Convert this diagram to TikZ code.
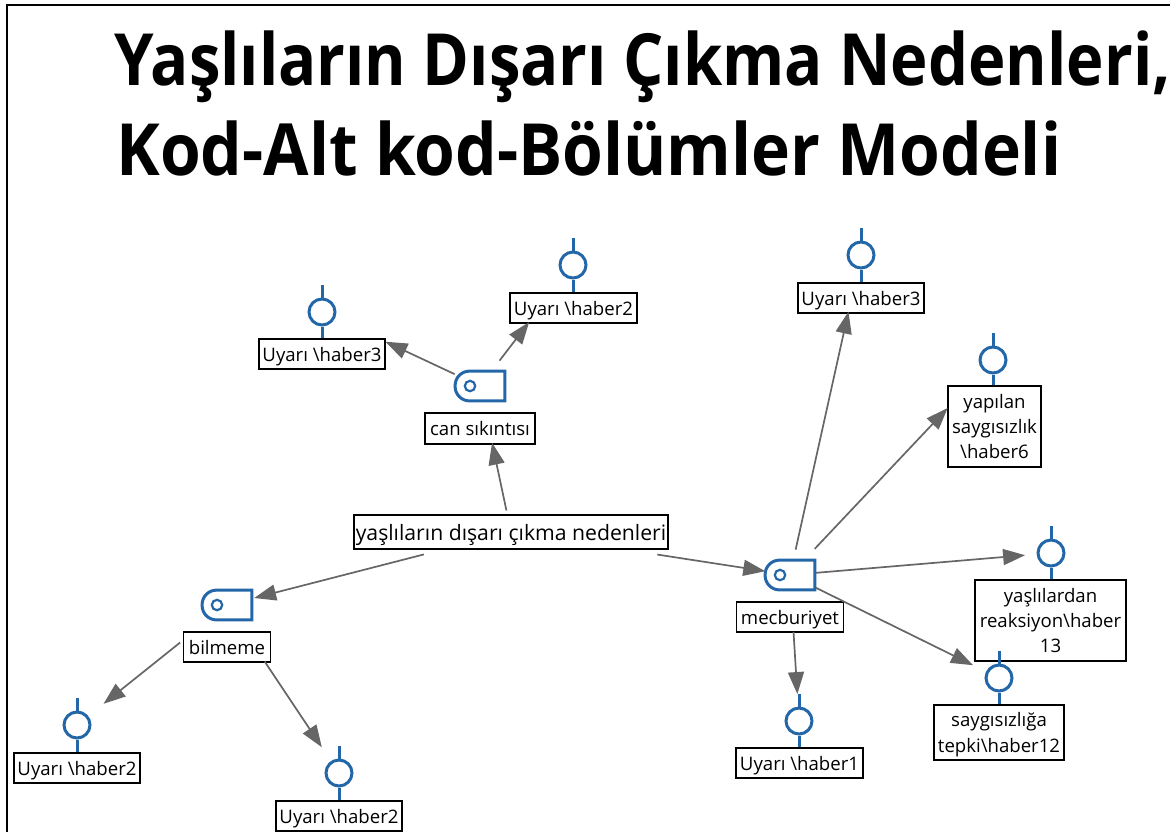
\documentclass[tikz,border=0pt]{standalone}
\usepackage{xcolor}
\usepackage{fontspec}
\setmainfont{Open Sans}
\newfontfamily\headfont[FakeStretch=0.915]{Open Sans}
\newfontfamily\headfontnarrow[FakeStretch=0.88]{Open Sans}
\usetikzlibrary{arrows.meta}
\definecolor{codeblue}{HTML}{2467A8}
\definecolor{linkgray}{HTML}{666666}
\tikzset{
	titletext/.style={anchor=base west, inner sep=0pt, font=\headfont\bfseries\fontsize{36}{40}\selectfont},
	labelbox/.style={draw=black, line width=0.75pt, inner sep=0pt, align=center, text depth=0pt, font=\fontsize{9.3}{12.6}\selectfont},
	tagicon/.style={inner sep=0pt, minimum width=24.5pt, minimum height=14.5pt},
	tagline/.style={draw=codeblue, line width=1.5pt},
	quotemark/.style={circle, tagline, inner sep=0pt, minimum size=13pt},
	link/.style={draw=linkgray, line width=0.85pt, -{Triangle[length=11pt,width=8pt]}}
}
\begin{document}
\begin{tikzpicture}[x=0.5pt,y=-0.5pt]
	\useasboundingbox (0,0) rectangle (1170,832);
	\draw[black, line width=1pt] (7,832) -- (7,5) -- (1170,5);

	\node[titletext, font=\headfontnarrow\bfseries\fontsize{36}{40}\selectfont] (title1) at (114,85) {Yaşlıların Dışarı Çıkma Nedenleri,};
	\node[titletext] (title2) at (116,175) {Kod-Alt kod-Bölümler Modeli};

	% center text
	\node[labelbox, minimum width=157pt, minimum height=17pt, font=\fontsize{10.6}{12.6}\selectfont] (root) at (511,532) {yaşlıların dışarı çıkma nedenleri};

	% code icons
	\node[tagicon] (canicon) at (480,386) {};
	\node[tagicon] (bilicon) at (227,605) {};
	\node[tagicon] (mecicon) at (790,575) {};
	\foreach \n in {canicon,bilicon,mecicon} {
		\draw[tagline, line join=miter] (\n.north east) -- (\n.south east) [rounded corners=7.2pt] -- (\n.south west) -- (\n.north west) [sharp corners] -- cycle;
		\draw[tagline, line width=1.1pt] (\n.center) ++(-10,0) circle (2.6pt);
	}
	\node[labelbox, minimum width=55pt, minimum height=15.5pt] (cantext) at (480,428.5) {can sıkıntısı};
	\node[labelbox, minimum width=43.5pt, minimum height=15pt] (biltext) at (227,647) {bilmeme};
	\node[labelbox, minimum width=53.5pt, minimum height=15pt] (mectext) at (790,617) {mecburiyet};

	% quotation marks
	\node[quotemark] (qa) at (322,312) {};
	\node[quotemark] (qb) at (573,265) {};
	\node[quotemark] (qc) at (861,255) {};
	\node[quotemark] (qd) at (993,360) {};
	\node[quotemark] (qe) at (1051,553) {};
	\node[quotemark] (qf) at (999,678) {};
	\node[quotemark] (qg) at (799,721) {};
	\node[quotemark] (qh) at (77,725) {};
	\node[quotemark] (qi) at (339,773) {};

	% quotation texts
	\node[labelbox, minimum width=63pt, minimum height=15pt] (ba) at (322,354) {Uyarı \textbackslash haber3};
	\node[labelbox, minimum width=63.5pt, minimum height=15pt] (bb) at (573.5,308) {Uyarı \textbackslash haber2};
	\node[labelbox, minimum width=63pt, minimum height=15pt] (bc) at (861,298) {Uyarı \textbackslash haber3};
	\node[labelbox, minimum width=46.5pt, minimum height=40.5pt] (bd) at (994.5,426.5) {yapılan\\saygısızlık\\\textbackslash haber6};
	\node[labelbox, minimum width=75.5pt, minimum height=40.5pt] (be) at (1050.5,620.5) {yaşlılardan\\reaksiyon\textbackslash haber\\13};
	\node[labelbox, minimum width=65pt, minimum height=27.5pt] (bf) at (999,732.5) {saygısızlığa\\tepki\textbackslash haber12};
	\node[labelbox, minimum width=63.5pt, minimum height=15pt] (bg) at (799.5,763) {Uyarı \textbackslash haber1};
	\node[labelbox, minimum width=63pt, minimum height=15pt] (bh) at (77,768) {Uyarı \textbackslash haber2};
	\node[labelbox, minimum width=63pt, minimum height=15pt] (bi) at (339,816) {Uyarı \textbackslash haber2};

	\foreach \q/\b in {qa/ba,qb/bb,qc/bc,qd/bd,qe/be,qf/bf,qg/bg,qh/bh,qi/bi} {
		\draw[tagline] (\q.north) -- ++(0,-13);
		\draw[tagline] (\q.south) -- (\q.south |- \b.north);
	}

	% links, center to center
	\foreach \a/\b/\s/\e in {root/canicon/11/29, canicon/qb/16/36, canicon/qa/14/35,
		root/bilicon/45/14, root/mecicon/74/12.5, bilicon/qh/30/17, bilicon/qi/34/15.5,
		mecicon/qc/13/29, mecicon/qd/18/33, mecicon/qe/13/13, mecicon/qf/14.5/14.5, mecicon/qg/28.5/13.5} {
		\draw[link, shorten <=\s pt, shorten >=\e pt] (\a.center) -- (\b.center);
	}
\end{tikzpicture}
\end{document}
